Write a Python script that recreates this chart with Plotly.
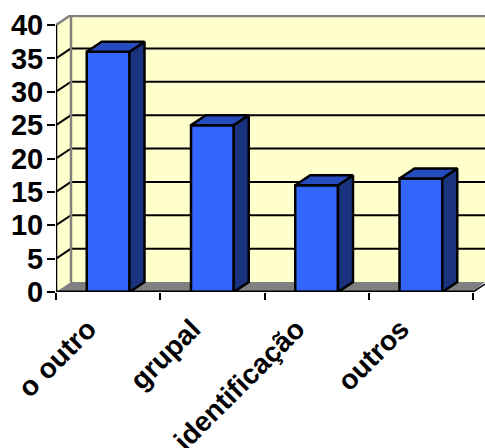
import plotly.graph_objects as go

categories = ["o outro", "grupal", "identificação", "outros"]
values = [36, 25, 16, 17]
y_ticks = [0, 5, 10, 15, 20, 25, 30, 35, 40]

W, H = 485, 448
LEFT, BOTTOM, TOP = 56, 292, 15
CAT_PX = 104.25
UNIT_PX = 6.675
DX = 15 / CAT_PX
DY = 10 / UNIT_PX
BAR_W = 0.41
X0 = -0.5
X1 = X0 + len(categories)
XMAX = X0 + (W - LEFT) / CAT_PX
YMAX = (BOTTOM - TOP) / UNIT_PX
YTOP = y_ticks[-1]
GRAY = "#808080"
FRONT, TOPC, SIDE = "#3366FF", "#264DBF", "#19337F"

positions = list(range(len(categories)))


def poly(xs, ys, fill):
    return dict(type="path", layer="below", line=dict(width=0), fillcolor=fill,
                xref="x", yref="y",
                path="M" + " L".join(f"{a},{b}" for a, b in zip(xs, ys)) + " Z")


def seg(x0, y0, x1, y1, color, width):
    return dict(type="line", layer="below", xref="x", yref="y", x0=x0, y0=y0, x1=x1, y1=y1,
                line=dict(color=color, width=width))


shapes = [
    poly([X0 + DX, XMAX, XMAX, X0 + DX], [DY, DY, YTOP + DY, YTOP + DY], "#FFFFCC"),
    poly([X0, X0 + DX, X0 + DX, X0], [0, DY, YTOP + DY, YTOP], "#FFFFCC"),
    poly([X0, X0 + DX, XMAX, X1], [0, DY, DY, 0], GRAY),
]
for v in y_ticks[1:-1]:
    shapes.append(seg(X0 + DX, v + DY, XMAX, v + DY, "black", 2))
    shapes.append(seg(X0, v, X0 + DX, v + DY, "black", 2))
shapes += [
    seg(X0 + DX, DY, X0 + DX, YTOP + DY, GRAY, 2.5),
    seg(X0 + DX, YTOP + DY - 0.1, XMAX, YTOP + DY - 0.1, GRAY, 3),
    seg(X0, YTOP, X0 + DX, YTOP + DY, GRAY, 2.5),
    seg(X1, 0, XMAX, (XMAX - X1) / DX * DY, "black", 1.5),
]

fig = go.Figure()
fig.add_trace(go.Bar(x=positions, y=values, width=BAR_W, cliponaxis=False,
                     marker=dict(color=FRONT, line=dict(color="black", width=2.5))))

OUT = dict(color="black", width=2.5)
for p, v in zip(positions, values):
    l, r = p - BAR_W / 2, p + BAR_W / 2
    fig.add_trace(go.Scatter(x=[r, r + DX, r + DX, r, r], y=[0, DY, v + DY, v, 0], mode="lines",
                             fill="toself", fillcolor=SIDE, line=OUT, cliponaxis=False))
    fig.add_trace(go.Scatter(x=[l, l + DX, r + DX, r, l], y=[v, v + DY, v + DY, v, v], mode="lines",
                             fill="toself", fillcolor=TOPC, line=OUT, cliponaxis=False))

fig.add_trace(go.Scatter(x=[X0, X1], y=[0, 0], mode="lines", line=dict(color="black", width=3), cliponaxis=False))
fig.add_trace(go.Scatter(x=[X0, X0], y=[0, YTOP], mode="lines", line=dict(color="black", width=2.5), cliponaxis=False))

fig.update_layout(
    width=W, height=H, autosize=False, showlegend=False,
    paper_bgcolor="white", plot_bgcolor="white",
    margin=dict(l=LEFT, r=0, t=TOP, b=H - BOTTOM, pad=0, autoexpand=False),
    shapes=shapes, font=dict(family="Liberation Sans", color="black"),
    xaxis=dict(range=[X0, XMAX], automargin=False, tickmode="array", tickvals=positions,
               ticktext=[f"<b>{c}</b>" for c in categories],
               tickangle=-45, ticks="", showgrid=False, zeroline=False, showline=False,
               tickfont=dict(size=28, family="Liberation Sans"), ticklabelshift=-20, ticklabelstandoff=14,
               minor=dict(tickmode="array", tickvals=[X0 + i for i in range(len(categories) + 1)],
                          ticks="outside", ticklen=7, tickwidth=2, tickcolor="black", showgrid=False)),
    yaxis=dict(range=[0, YMAX], automargin=False, tickmode="array", tickvals=y_ticks,
               ticktext=[f"<b>{t}</b>" for t in y_ticks],
               ticks="outside", ticklen=8, tickwidth=2, tickcolor="black", showgrid=False, zeroline=False,
               showline=False, ticklabelstandoff=-2, tickfont=dict(size=29, family="Liberation Sans")),
)

fig.write_html("out.html", config={"displayModeBar": False},
               post_script="document.body.style.margin='0';document.body.style.overflow='hidden';")
